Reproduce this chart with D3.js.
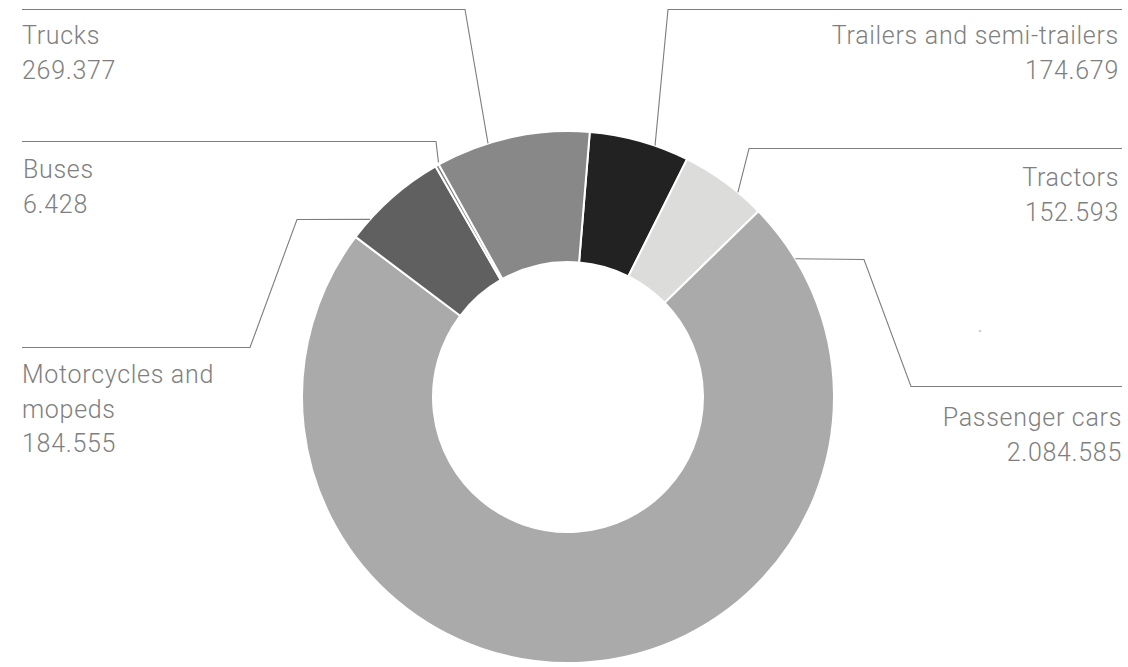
<!DOCTYPE html>
<html>
<head>
<meta charset="utf-8">
<script src="https://cdn.jsdelivr.net/npm/d3@7"></script>
<style>
  html, body { margin: 0; padding: 0; background: #fff; }
  svg { display: block; }
  text { font-family: "Roboto", "Lato", sans-serif; font-weight: 300; fill: #7f7f7f; letter-spacing: 0.7px; }
</style>
</head>
<body>
<svg id="chart" width="1128" height="667"></svg>
<script>
// ---- data ----
const categories = ["Trailers and semi-trailers", "Tractors", "Passenger cars", "Motorcycles and mopeds", "Buses", "Trucks"];
const values = [174679, 152593, 2084585, 184555, 6428, 269377];
const colors = ["#222222", "#dcdcdb", "#aaaaaa", "#5f605f", "#828282", "#878887"];

// ---- layout ----
const W = 1128, H = 667;
const cx = 568, cy = 397, outerR = 266, innerR = 135;
const startDeg = 4.7;

const fmt = d3.formatLocale({ decimal: ",", thousands: ".", grouping: [3], currency: ["", ""] }).format(",d");

const svg = d3.select("#chart");
const g = svg.append("g").attr("transform", `translate(${cx},${cy})`);

const pie = d3.pie().sort(null).value(d => d.value)
  .startAngle(startDeg * Math.PI / 180)
  .endAngle((startDeg + 360) * Math.PI / 180);
const data = categories.map((c, i) => ({ name: c, value: values[i], color: colors[i] }));
const arcs = pie(data);
const arc = d3.arc().innerRadius(innerR).outerRadius(outerR);

// label layout (positions only)
const labelLayout = {
  "Trucks":                     { lines: ["Trucks"], anchor: "start", x: 22, y: 44, path: [[22, 9.5], [465, 9.5]], endDeg: -17.5, endR: 266 },
  "Buses":                      { lines: ["Buses"], anchor: "start", x: 23, y: 178, path: [[22, 141.5], [436, 141.5]], endDeg: -28.9, endR: 268 },
  "Motorcycles and mopeds":     { lines: ["Motorcycles and", "mopeds"], anchor: "start", x: 22, y: 383, path: [[22, 347.5], [250, 347.5], [297, 219.5]], endDeg: -48.1, endR: 266 },
  "Trailers and semi-trailers": { lines: ["Trailers and semi-trailers"], anchor: "end", x: 1119, y: 44, path: [[1122, 9.5], [668, 9.5]], endDeg: 19.1, endR: 266 },
  "Tractors":                   { lines: ["Tractors"], anchor: "end", x: 1119, y: 186, path: [[1122, 148.5], [749, 148.5]], endDeg: 39.7, endR: 266 },
  "Passenger cars":             { lines: ["Passenger cars"], anchor: "end", x: 1122, y: 426, path: [[1122, 386.5], [911, 386.5], [864, 259.5]], endDeg: 58.7, endR: 266 }
};

// slices
g.selectAll("path.slice").data(arcs).join("path")
  .attr("class", "slice")
  .attr("d", arc)
  .attr("fill", d => d.data.color)
  .attr("stroke", "#ffffff")
  .attr("stroke-width", 2)
  .attr("stroke-linejoin", "round");

// connectors and labels
const line = d3.line();
const lblG = svg.append("g");
arcs.forEach(a => {
  const L = labelLayout[a.data.name];
  const ang = L.endDeg * Math.PI / 180;
  const end = [cx + L.endR * Math.sin(ang), cy - L.endR * Math.cos(ang)];
  lblG.append("path")
    .attr("d", line([...L.path, end]))
    .attr("fill", "none")
    .attr("stroke", "#7d7d7d")
    .attr("stroke-width", 1.1);
  const t = lblG.append("text")
    .attr("text-anchor", L.anchor)
    .attr("font-size", 25);
  const allLines = [...L.lines, fmt(a.data.value)];
  allLines.forEach((s, i) => {
    t.append("tspan").attr("x", L.x).attr("y", L.y + i * 34.5).text(s);
  });
});

// faint dot present in the reference
svg.append("circle").attr("cx", 980).attr("cy", 331).attr("r", 1.3).attr("fill", "#cfcfcf");
</script>
</body>
</html>
